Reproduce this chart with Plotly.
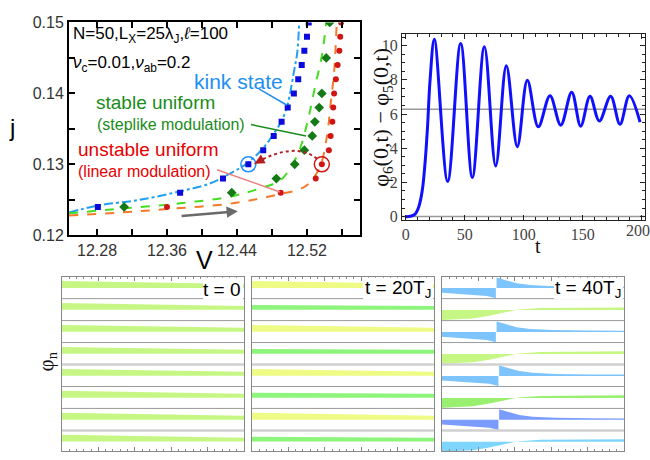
import plotly.graph_objects as go

W, H = 650, 460
def PX(x): return x / W
def PY(y): return 1 - y / H

# ---------------- Panel (a): j-V characteristics ----------------
kink_V = [12.281, 12.375, 12.424, 12.453, 12.470, 12.482, 12.491, 12.498, 12.505, 12.510, 12.514, 12.517, 12.520, 12.522]
kink_j = [0.124, 0.126, 0.128, 0.130, 0.132, 0.134, 0.136, 0.138, 0.140, 0.142, 0.144, 0.146, 0.148, 0.150]

stab_V = [12.311, 12.434, 12.485, 12.506, 12.517, 12.526, 12.529, 12.534, 12.537, 12.542, 12.546]
stab_j = [0.124, 0.126, 0.128, 0.130, 0.132, 0.134, 0.136, 0.138, 0.140, 0.145, 0.150]

unst_V = [12.360, 12.490, 12.530, 12.537, 12.545, 12.547, 12.549, 12.550, 12.551, 12.553, 12.555, 12.557, 12.558, 12.559]
unst_j = [0.124, 0.126, 0.128, 0.130, 0.132, 0.134, 0.136, 0.138, 0.140, 0.142, 0.144, 0.146, 0.148, 0.150]

kink_th_V = [12.248, 12.281, 12.329, 12.375, 12.409, 12.432, 12.451, 12.470, 12.483, 12.491, 12.498, 12.505, 12.509, 12.511]
kink_th_j = [0.1232, 0.1242, 0.1250, 0.1262, 0.1273, 0.1287, 0.1301, 0.1323, 0.1345, 0.1361, 0.1385, 0.1430, 0.1459, 0.1500]

stab_th_V = [12.248, 12.311, 12.375, 12.434, 12.466, 12.489, 12.501, 12.512, 12.521, 12.529, 12.537, 12.542]
stab_th_j = [0.1231, 0.1238, 0.1245, 0.1255, 0.1266, 0.1277, 0.1295, 0.1322, 0.1362, 0.1408, 0.1453, 0.1500]

unst_th_V = [12.248, 12.306, 12.360, 12.435, 12.489, 12.512, 12.523, 12.535, 12.543, 12.547, 12.551, 12.554]
unst_th_j = [0.1228, 0.1232, 0.1237, 0.1245, 0.1258, 0.1265, 0.1274, 0.1297, 0.1341, 0.1385, 0.1430, 0.1500]

# ---------------- Panel (b): phase difference vs time ----------------
t_vals = [0, 4, 8, 11, 14, 16.5, 18.5, 20.6, 24.3, 35.6, 46.6, 56.5, 66.7, 76.3, 85.3, 94.6, 103.1,
          112.4, 122.3, 131.4, 140.7, 148.3, 156.2, 164.1, 173.7, 181.6, 189.5, 198.6]
dphi_vals = [0, 0.02, 0.15, 0.55, 1.5, 3.2, 5.2, 7.9, 10.37, 2.06, 10.13, 2.29, 9.94, 2.96, 8.82, 4.09, 7.97,
             5.25, 7.07, 5.35, 7.28, 5.29, 7.04, 5.59, 7.04, 5.40, 7.07, 5.53]
two_pi = 6.2832
t_ticks = [0, 50, 100, 150, 200]

# ---------------- Panels (c): phase profiles per layer ----------------
lin_x = [0, 5]
lin_top = [0.80, 0.67]
step_top = [0.71, 0.67]
band_base = 0.49
kink_base = 0.48
kink_left_x = [0, 0.85, 1.23, 1.43, 1.48]
kink_left_y = [0.27, 0.17, 0.12, 0.04, 0.0]
kink_right_x = [1.50, 1.78, 2.05, 2.42, 3.05, 4.0, 5.0]
kink_right_y = [0.96, 0.81, 0.70, 0.62, 0.57, 0.55, 0.54]
s_x = [0, 0.4, 0.85, 1.3, 1.6, 2.06, 2.69, 3.5, 5.0]
s_y = [0.03, 0.05, 0.10, 0.22, 0.32, 0.49, 0.57, 0.59, 0.60]

A_colors = ["#c6f784"] * 8
B_kinds = ["lin", "step"] * 4
B_colors = ["#eefb84", "#8ef57c"] * 4
C_kinds = ["kink", "s", "kink", "s", "kink", "s", "kink", "s"]
C_colors = ["#7cc4fb", "#c6f784", "#7cc4fb", "#c6f784", "#7cc4fb", "#98ef70", "#7b9cff", "#7ed6ff"]
C_kink_pos = [1.48, None, 1.48, None, 1.55, None, 1.55, None]
panel_labels = ["t = 0", "t = 20T<sub>J</sub>", "t = 40T<sub>J</sub>"]

fig = go.Figure()

SANS = "Liberation Sans, Arial, sans-serif"
SERIF = "Liberation Serif, Times New Roman, serif"

# ---- panel (a) traces ----
fig.add_trace(go.Scatter(x=kink_th_V, y=kink_th_j, mode="lines", line=dict(color="#20a0f0", width=2, dash="dashdot", shape="spline"), xaxis="x", yaxis="y"))
fig.add_trace(go.Scatter(x=stab_th_V, y=stab_th_j, mode="lines", line=dict(color="#44dd22", width=2, dash="dash", shape="spline"), xaxis="x", yaxis="y"))
fig.add_trace(go.Scatter(x=unst_th_V, y=unst_th_j, mode="lines", line=dict(color="#f57a2a", width=2, dash="dash", shape="spline"), xaxis="x", yaxis="y"))
fig.add_trace(go.Scatter(x=kink_V, y=kink_j, mode="markers", marker=dict(symbol="square", size=6, color="#0a0adc"), xaxis="x", yaxis="y"))
fig.add_trace(go.Scatter(x=stab_V, y=stab_j, mode="markers", marker=dict(symbol="diamond", size=7.5, color="#157a15"), xaxis="x", yaxis="y"))
fig.add_trace(go.Scatter(x=unst_V, y=unst_j, mode="markers", marker=dict(symbol="circle", size=6, color="#d01515"), xaxis="x", yaxis="y"))
fig.add_trace(go.Scatter(x=[kink_V[3]], y=[kink_j[3]], mode="markers", marker=dict(symbol="circle-open", size=15, color="#1e90ff", line=dict(width=1.5)), xaxis="x", yaxis="y"))
fig.add_trace(go.Scatter(x=[unst_V[3]], y=[unst_j[3]], mode="markers", marker=dict(symbol="circle-open", size=15, color="#d01515", line=dict(width=1.5)), xaxis="x", yaxis="y"))

# ---- panel (b) ----
fig.add_trace(go.Scatter(x=t_vals, y=dphi_vals, mode="lines", line=dict(color="#1010ff", width=3, shape="spline", smoothing=1.0), xaxis="x2", yaxis="y2"))

# ---- panels (c) ----
def add_band(ax, i, kind, color, kpos=None):
    off = 7 - i
    xa, ya = "x%d" % ax, "y%d" % ax
    def poly(xs, ys, base):
        px_ = list(xs) + list(xs)[::-1]
        py_ = [off + v for v in ys] + [off + base] * len(xs)
        fig.add_trace(go.Scatter(x=px_, y=py_, mode="lines", fill="toself", fillcolor=color,
                                 line=dict(width=0, color=color), xaxis=xa, yaxis=ya, hoverinfo="skip"))
    if kind == "lin":
        poly(lin_x, lin_top, band_base)
    elif kind == "step":
        poly(lin_x, step_top, band_base)
    elif kind == "s":
        poly(s_x, s_y, kink_base)
    elif kind == "kink":
        sh = kpos - kink_left_x[-1]
        poly([kink_left_x[0]] + [v + sh for v in kink_left_x[1:]], kink_left_y, kink_base)
        poly([v + sh for v in kink_right_x[:-1]] + [kink_right_x[-1]], kink_right_y, kink_base)

for i in range(8):
    add_band(3, i, "lin", A_colors[i])
    add_band(4, i, B_kinds[i], B_colors[i])
    add_band(5, i, C_kinds[i], C_colors[i], C_kink_pos[i])

# ---------------- layout ----------------
ax1 = dict(domain=[PX(69), PX(360)], range=[12.248, 12.5806], tickmode="linear", tick0=12.28, dtick=0.08,
           tickformat=".2f", ticks="inside", ticklen=6, tickwidth=1.5, tickcolor="black",
           minor=dict(dtick=0.04, tick0=12.28, ticks="inside", ticklen=6, tickwidth=1.5, tickcolor="black"),
           showline=True, linewidth=2, linecolor="black", mirror="allticks", showgrid=False, zeroline=False,
           tickfont=dict(family=SANS, size=16, color="#333"), anchor="y")
ay1 = dict(domain=[PY(236), PY(15)], range=[0.12, 0.15], tickmode="linear", tick0=0.12, dtick=0.01,
           tickformat=".2f", ticks="inside", ticklen=6, tickwidth=1.5, tickcolor="black",
           minor=dict(dtick=0.005, ticks="inside", ticklen=6, tickwidth=1.5, tickcolor="black"),
           showline=True, linewidth=2, linecolor="black", mirror="allticks", showgrid=False, zeroline=False,
           tickfont=dict(family=SANS, size=16, color="#333"), anchor="x")
ax2 = dict(domain=[PX(402), PX(645)], range=[-3.1, 202.8], tickmode="array", tickvals=t_ticks,
           ticktext=[str(v) for v in t_ticks[:-1]] + [""],
           ticks="inside", ticklen=5, tickcolor="#222",
           minor=dict(dtick=10, tick0=0, ticks="inside", ticklen=3, tickcolor="#222"),
           showline=True, linewidth=1, linecolor="#222", mirror="allticks", showgrid=False, zeroline=False,
           tickfont=dict(family=SERIF, size=16, color="#444"), anchor="y2")
ay2 = dict(domain=[PY(220), PY(27)], range=[-0.19, 10.68], tickmode="linear", tick0=0, dtick=2,
           ticks="inside", ticklen=5, tickcolor="#222",
           minor=dict(dtick=0.5, ticks="inside", ticklen=3, tickcolor="#222"),
           showline=True, linewidth=1, linecolor="#222", mirror="allticks", showgrid=False, zeroline=False,
           tickfont=dict(family=SERIF, size=16, color="#444"), anchor="x2")

bottom_dom = [(62, 244), (252, 434), (442, 624)]
layout_axes = dict(xaxis=ax1, yaxis=ay1, xaxis2=ax2, yaxis2=ay2)
for k, (l, r) in enumerate(bottom_dom):
    n = k + 3
    layout_axes["xaxis%d" % n] = dict(domain=[PX(l), PX(r)], range=[0, 5], tickmode="linear", tick0=0, dtick=1,
                                     ticks="inside", ticklen=4, tickcolor="#888", showticklabels=False,
                                     minor=dict(dtick=0.2, ticks="inside", ticklen=2, tickcolor="#888"),
                                     showline=True, linewidth=1, linecolor="#888", mirror="allticks",
                                     showgrid=False, zeroline=False, anchor="y%d" % n)
    layout_axes["yaxis%d" % n] = dict(domain=[0, PY(279)], range=[0.061, 8], showticklabels=False, ticks="",
                                     showline=True, linewidth=1, linecolor="#888", mirror=True,
                                     showgrid=False, zeroline=False, anchor="x%d" % n)

shapes = []
for yv in [0, two_pi]:
    shapes.append(dict(type="line", xref="x2 domain", x0=0, x1=1, yref="y2", y0=yv, y1=yv,
                       line=dict(color="#999", width=1.5), layer="below"))
for n in (3, 4, 5):
    for b in range(1, 8):
        light = b in (4, 1)
        shapes.append(dict(type="line", xref="x%d domain" % n, x0=0, x1=1, yref="y%d" % n, y0=b, y1=b,
                           line=dict(color="#d0d0d0" if light else "#9a9a9a", width=2.5 if light else 1),
                           layer="above"))
for (l, r), x0 in zip(bottom_dom, [203, 363, 554]):
    shapes.append(dict(type="rect", xref="paper", yref="paper", x0=PX(x0), x1=PX(r - 1), y0=PY(302.8), y1=PY(280),
                       fillcolor="white", line=dict(width=0), layer="above"))
shapes.append(dict(type="path", xref="x", yref="y",
                   path="M 12.5314,0.13081 Q 12.5057,0.13330 12.4600,0.13010",
                   line=dict(color="#b41e1e", width=2, dash="dot"), layer="above"))
def pline(x0, y0, x1, y1, c, w=1.5):
    shapes.append(dict(type="line", xref="paper", yref="paper", x0=PX(x0), y0=PY(y0), x1=PX(x1), y1=PY(y1),
                       line=dict(color=c, width=w), layer="above"))
pline(259, 84, 287, 101, "#1e8ff0")
pline(251, 121, 306, 133, "#1a8c1a")
pline(217, 168, 280, 191, "#f08080")

ann = []
def txt(x, y, s, size, color="black", family=SANS, xanchor="left", angle=0):
    ann.append(dict(x=PX(x), y=PY(y), xref="paper", yref="paper", text=s, showarrow=False,
                    xanchor=xanchor, yanchor="middle", textangle=angle,
                    font=dict(family=family, size=size, color=color)))

txt(71, 28, "N=50,L<sub>X</sub>=25λ<sub>J</sub>,<i>ℓ</i>=100", 17)
txt(71, 58, "<i>ν</i><sub>c</sub>=0.01,<i>ν</i><sub>ab</sub>=0.2", 17)
txt(192, 76, "kink state", 21, "#1e8ff0")
txt(94, 98, "stable uniform", 19, "#1a8c1a")
txt(95, 121, "(steplike modulation)", 16, "#1a8c1a")
txt(76, 147, "unstable uniform", 19, "#e60000")
txt(76, 170, "(linear modulation)", 16, "#e60000")
txt(12, 124, "j", 24, xanchor="center")
txt(204, 262, "V", 25, xanchor="center")
txt(382, 114, "φ<sub>6</sub>(0,t) − φ<sub>5</sub>(0,t)", 22, "#111", SERIF, "center", -90)
txt(538, 247, "t", 20, "#111", SERIF, "center")
txt(47, 367, "φ<sub>n</sub>", 21, "#111", SERIF, "center", -90)
for (l, r), s in zip(bottom_dom, panel_labels):
    txt(r - 1, 292, s, 19, "black", SANS, "right")

# last t tick label, nudged so it stays inside the page (clipped in the original)
ann.append(dict(x=t_ticks[-1], y=PY(231), xref="x2", yref="paper", text=str(t_ticks[-1]), showarrow=False,
                xanchor="center", yanchor="middle", xshift=-4,
                font=dict(family=SERIF, size=16, color="#444")))

ann.append(dict(x=12.4600, y=0.13010, xref="x", yref="y", ax=11, ay=-6, axref="pixel", ayref="pixel",
                text="", showarrow=True, arrowhead=2, arrowsize=1, arrowwidth=2, arrowcolor="#b41e1e"))
ann.append(dict(x=12.441, y=0.1234, ax=12.375, ay=0.1227, xref="x", yref="y", axref="x", ayref="y",
                text="", showarrow=True, arrowhead=2, arrowsize=0.9, arrowwidth=2.5, arrowcolor="#6a6a6a"))

fig.update_layout(width=W, height=H, margin=dict(l=0, r=0, t=0, b=0), showlegend=False,
                  paper_bgcolor="white", plot_bgcolor="white", shapes=shapes, annotations=ann, **layout_axes)
fig.write_html("out.html")
